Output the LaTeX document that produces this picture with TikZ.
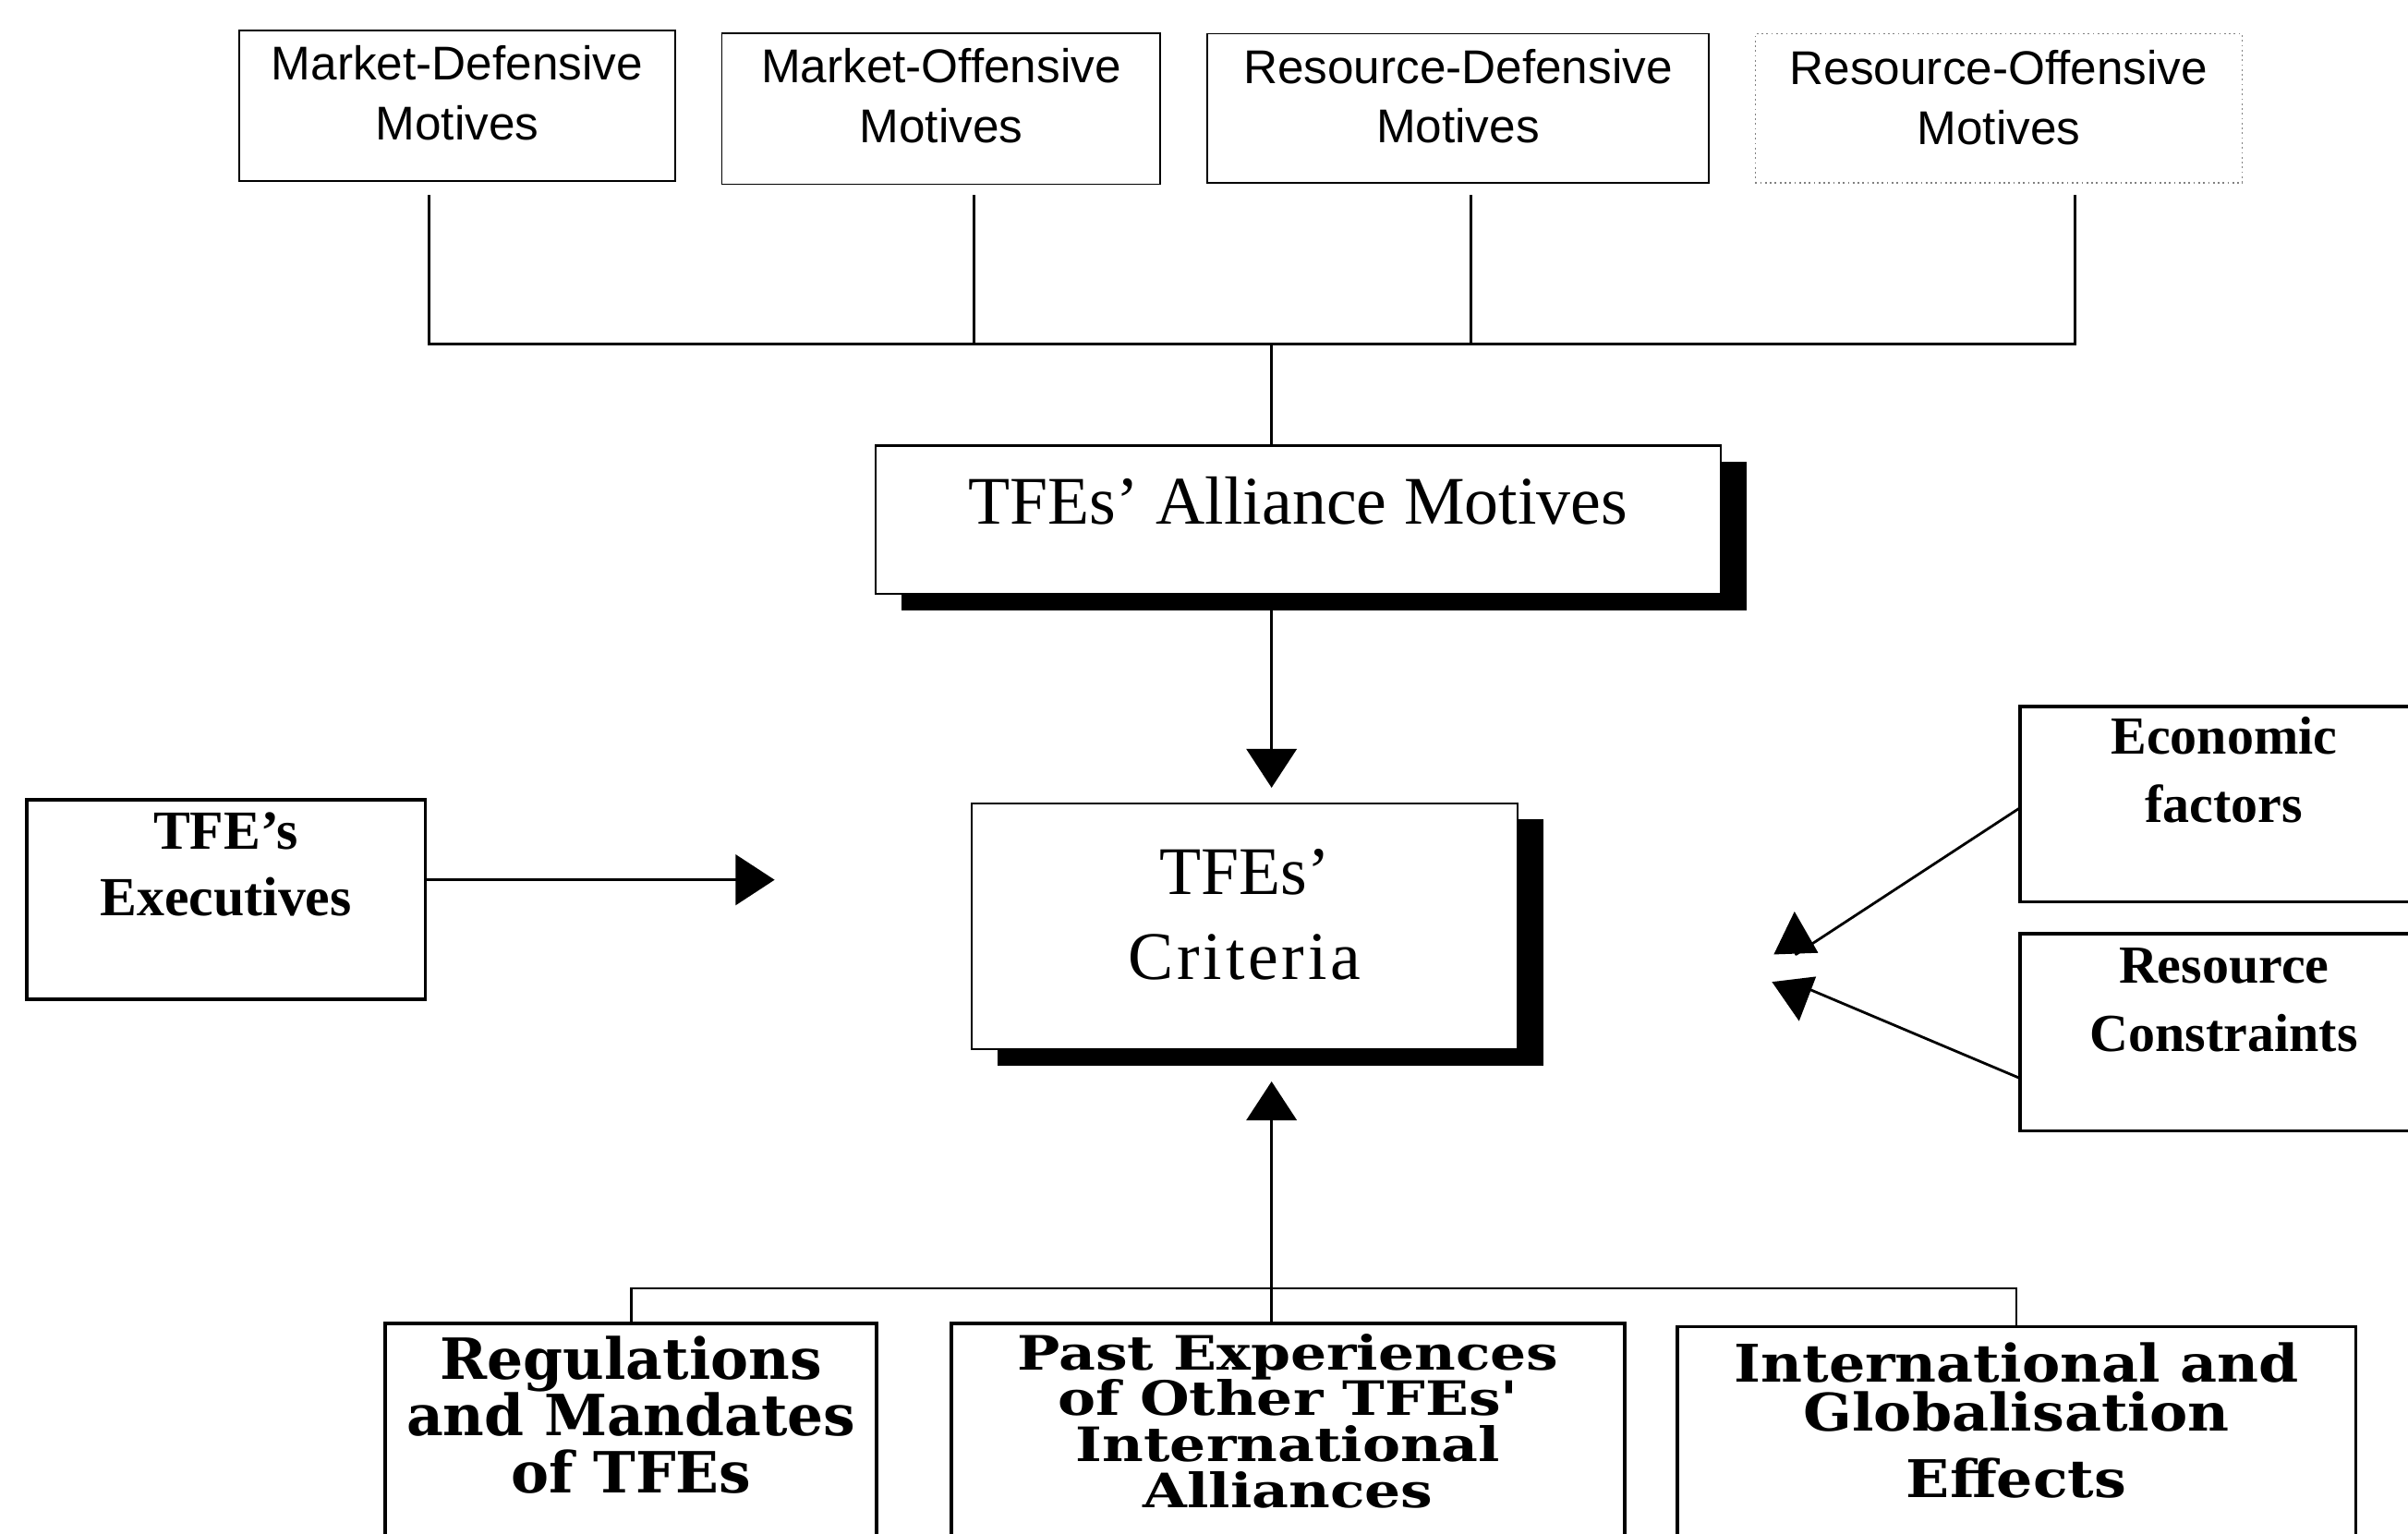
\documentclass[tikz,border=0pt]{standalone}
\usepackage{fontspec}
\setmainfont{Liberation Serif}
\newfontfamily\sansf{Liberation Sans}
\newfontfamily\slab{DejaVu Serif}
\newfontfamily\slabwide[FakeStretch=1.2]{DejaVu Serif}
\newfontfamily\slabmid[FakeStretch=1.1]{DejaVu Serif}
\usetikzlibrary{arrows.meta,calc,shadows}
\newdimen\pxu \pxu=0.016626cm
% box text: width, height, first baseline from top, text
\newcommand\bt[4]{\parbox[c][#2\pxu][t]{#1\pxu}{\centering\rule{0pt}{#3\pxu}#4\par}}
\begin{document}
\begin{tikzpicture}[x=0.016626cm,y=-0.016626cm,
  every node/.style={inner sep=0pt,outer sep=0pt},
  topbox/.style={draw,line width=0.5pt,font=\sansf\fontsize{14.6}{18.45}\selectfont},
  shbox/.style={draw,line width=0.6pt,fill=white,
    drop shadow={shadow xshift=8.04pt,shadow yshift=-5.06pt,fill=black,opacity=1}},
  sidebox/.style={draw,line width=1.1pt},
  botbox/.style={draw,line width=1.1pt},
  conn/.style={line width=0.8pt},
  mainarr/.style={conn,-{Triangle[length=12pt,width=15.5pt]}},
  sidearr/.style={conn,line join=round,-{Triangle[length=13pt,width=13.5pt]}}]
\useasboundingbox (0,0) rectangle (1568,999);
\fill[white] (0,0) rectangle (1568,999);
\clip (0,0) rectangle (1568,999);

% top motive boxes
\node[topbox] (md) at (297.7,69) {\bt{284.2}{98}{32}{Market-Defensive\\Motives}};
\node[topbox] (mo) at (612.8,70.85) {\bt{285.6}{98.3}{32}{Market-Offensive\\Motives}};
\node[topbox] (rd) at (949.35,70.5) {\bt{326.7}{97}{32.2}{Resource-Defensive\\Motives}};
\node[topbox,draw=gray,densely dotted] (ro) at (1301.5,70.5) {\bt{317}{97}{33}{Resource-Offensive\\Motives}};

% central boxes
\node[shbox,font=\fontsize{21}{26}\selectfont] (am) at (845.25,338.45)
  {\bt{550.5}{96.5}{51.1}{TFEs' Alliance Motives}};
\node[shbox,font=\fontsize{21}{26.25}\selectfont] (cr) at (810.4,603.15)
  {\bt{355.6}{160.3}{59.5}{TFEs'\\{\addfontfeature{LetterSpace=5}Criteria}}};

% side boxes
\node[sidebox,font=\bfseries\fontsize{17}{20.4}\selectfont] (ex) at (147.15,585.8)
  {\bt{259.7}{129.6}{32.3}{TFE’s\\Executives}};
\node[sidebox,font=\bfseries\fontsize{16.5}{21.1}\selectfont] (ec) at (1448.2,523.65)
  {\bt{265.6}{127.3}{31}{Economic\\factors}};
\node[sidebox,font=\bfseries\fontsize{16.5}{21.1}\selectfont] (rc) at (1448.2,672.25)
  {\bt{265.6}{128.5}{32.2}{Resource\\Constraints}};

% bottom boxes
\node[botbox,font=\slab\bfseries\fontsize{17.5}{17.5}\selectfont] (rg) at (411,937)
  {\bt{320}{150}{36.2}{Regulations\\and Mandates\\of TFEs}};
\node[botbox,font=\slabwide\bfseries\fontsize{14.6}{14.2}\selectfont] (pe) at (838.75,937)
  {\bt{438.5}{150}{30}{Past Experiences\\of Other TFEs'\\International\\Alliances}};
\node[botbox,font=\slabmid\bfseries\fontsize{16}{15.1}\selectfont] (ig) at (1313,939)
  {\bt{442}{150}{36.2}{International and\\Globalisation\\[5.2pt]Effects}};

% top bus
\coordinate (busT) at (828,224);
\coordinate (d1) at ($(md.south)+(-18.4,9)$);
\coordinate (d2) at ($(mo.south)+(21.6,7)$);
\coordinate (d3) at ($(rd.south)+(8.65,8)$);
\coordinate (d4) at ($(ro.south)+(49.5,8)$);
\draw[conn] (d1) -- (d1 |- busT) -- (d4 |- busT) -- (d4);
\draw[conn] (d2) -- (d2 |- busT);
\draw[conn] (d3) -- (d3 |- busT);
\draw[conn] (busT) -- (busT |- am.north);

% alliance motives -> criteria
\draw[mainarr] (busT |- am.south) -- ($(busT |- cr.north)+(0,-10)$);

% executives -> criteria
\coordinate (exTip) at (504.4,573);
\draw[mainarr] ($(ex.east)+(0,-12.8)$) -- (exTip);

% economic / resource -> criteria
\coordinate (ecB) at (1169.5,621.5);
\coordinate (ecTip) at (1168.5,593.6);
\draw[sidearr] ($(ec.west)+(0,2.4)$) -- (ecB) -- (ecTip);
\coordinate (rcB) at (1168.5,640.2);
\coordinate (rcTip) at (1171.5,665);
\draw[sidearr] ($(rc.west)+(0,30)$) -- (rcB) -- (rcTip);

% bottom bus and arrow up
\draw[conn] (rg.north) -- ++(0,-23) -| (ig.north);
\draw[mainarr] (pe.north -| busT) -- ($(busT |- cr.south)+(0,21)$);
\end{tikzpicture}
\end{document}
